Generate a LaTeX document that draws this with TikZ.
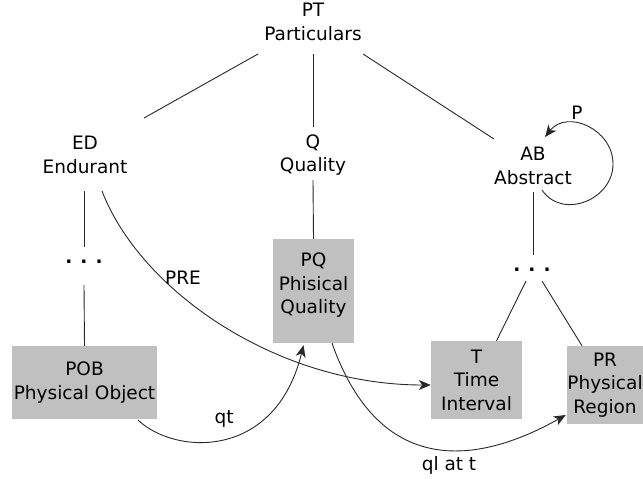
\documentclass[tikz,border=0pt]{standalone}
\usepackage{fontspec}
\setmainfont{DejaVu Sans}
\usetikzlibrary{arrows.meta}
\definecolor{boxgray}{RGB}{192,192,192}
\definecolor{linegray}{RGB}{40,40,40}
\tikzset{
	lbl/.style={align=center,inner sep=0pt,font=\fontsize{18.5}{23.5}\selectfont},
	gbox/.style={lbl,fill=boxgray},
	rel/.style={line width=0.9pt,draw=linegray},
	arr/.style={rel,-{Stealth[length=12pt,width=10pt,inset=3.5pt]}}
}
\begin{document}
\begin{tikzpicture}[x=1pt,y=-1pt]
		\useasboundingbox (0,0) rectangle (643,483);
	
		\node[lbl] (PT) at (313,22) {PT\\Particulars};
		\node[lbl] (ED) at (85,155) {ED\\Endurant};
		\node[lbl] (Q) at (313,155) {Q\\Quality};
		\node[lbl] (AB) at (533,166) {AB\\Abstract};
	
		\node[lbl] (dotsED) at (84,262) {\textbf{.}\hspace{8pt}\textbf{.}\hspace{8pt}\textbf{.}};
		\node[lbl] (dotsAB) at (532,270) {\textbf{.}\hspace{8pt}\textbf{.}\hspace{8pt}\textbf{.}};
	
		\node[gbox][minimum width=145,minimum height=73] (POB) at (84.5,382.5) {POB\\Physical Object};
		\node[gbox] (PQ) at (313.5,291) {\parbox[c][104pt][t]{81pt}{\centering\vspace*{14pt}PQ\\Phisical\\Quality}};
		\node[gbox][minimum width=91,minimum height=78] (T) at (476.5,380) {T\\Time\\Interval};
		\node[gbox][minimum width=76,minimum height=78] (PR) at (605,385) {PR\\Physical\\Region};
	
		\draw[rel]([shift={(-55,32)}]PT.center)--([shift={(59,-37)}]ED.center);
		\draw[rel]([shift={(0,32)}]PT.center)--([shift={(0,-28)}]Q.center);
		\draw[rel]([shift={(50,32)}]PT.center)--([shift={(-39,-27)}]AB.center);
	
		\draw[rel]([shift={(-1,36)}]ED.center)--([shift={(0,-15)}]dotsED.center);
		\draw[rel]([shift={(0,23)}]dotsED.center)--(POB.north);
		\draw[rel]([shift={(0,25)}]Q.center)--(PQ.north);
		\draw[rel]([shift={(0,26)}]AB.center)--([shift={(1,-15)}]dotsAB.center);
		\draw[rel]([shift={(-6,11)}]dotsAB.center)--([shift={(20,0)}]T.north);
		\draw[rel]([shift={(10,11)}]dotsAB.center)--([shift={(-23,0)}]PR.north);
	
		\draw[arr]([shift={(17,36)}]ED.center) .. controls +(38,99) and +(-155,0) .. ([shift={(0,5)}]T.west);
		\node[lbl] (PRE) at (183,278) {PRE};
	
		\draw[arr]([shift={(-19,1)}]POB.south east) .. controls +(37,35) and +(-28,115) .. ([shift={(-10,2)}]PQ.south);
		\node[lbl] (qt) at (224,419) {qt};
	
		\draw[arr]([shift={(18.5,0)}]PQ.south) .. controls +(45,127) and +(-98,55) .. ([shift={(-1,30)}]PR.west);
		\node[lbl] (qlatt) at (449,465) {ql at t};
	
		\draw[arr]([shift={(9,24)}]AB.center) .. controls +(20,30) and +(0,36) .. (613,164) .. controls +(0,-35) and +(22,-28) .. ([shift={(12,-29)}]AB.center);
		\node[lbl] (P) at (577,113) {P};
	
	\end{tikzpicture}
\end{document}
